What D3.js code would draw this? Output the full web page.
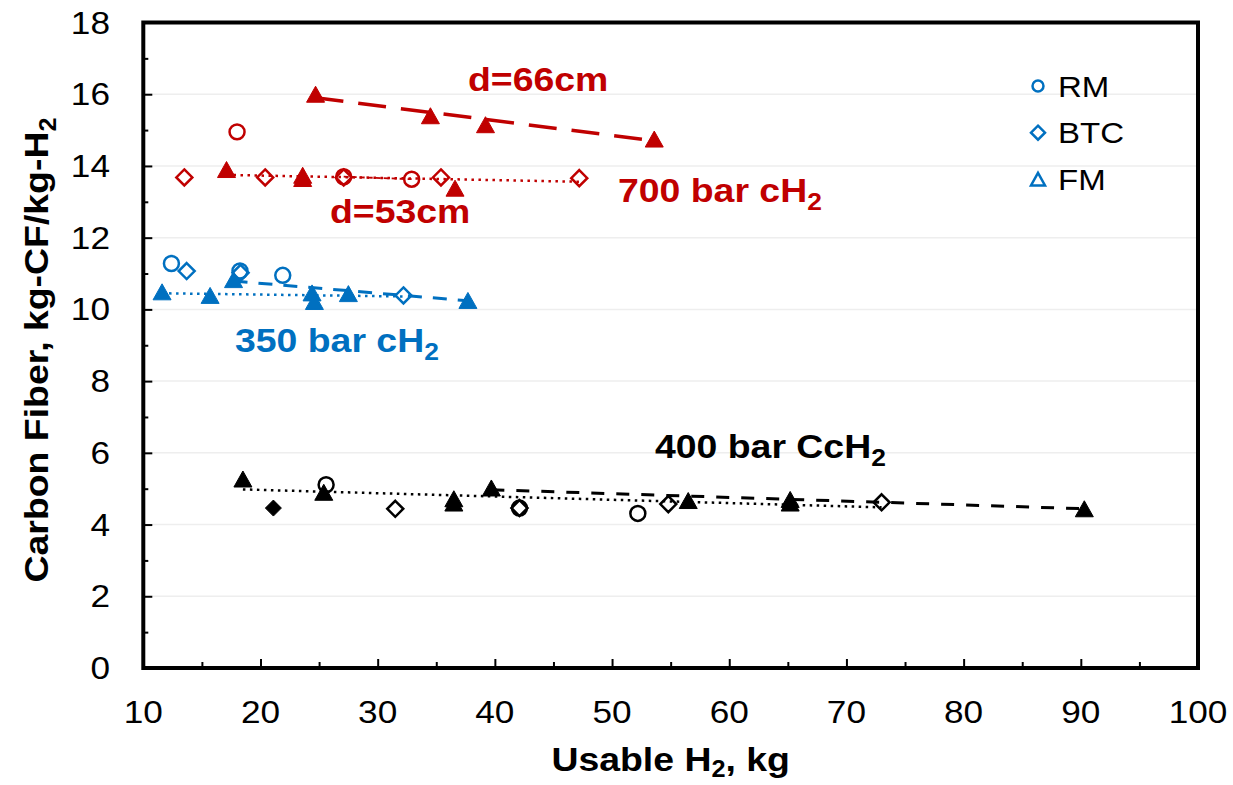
<!DOCTYPE html>
<html>
<head>
<meta charset="utf-8">
<script src="https://cdn.jsdelivr.net/npm/d3@7"></script>
<style>
  html, body { margin: 0; padding: 0; background: #ffffff; }
  svg { display: block; }
  text { font-family: "Liberation Sans", Arial, sans-serif; }
</style>
</head>
<body>
<svg id="chart" width="1233" height="785"></svg>
<script>
// ---------------- data ----------------
const xTickValues = [10, 20, 30, 40, 50, 60, 70, 80, 90, 100];
const xMinorTicks = [15, 25, 35, 45, 55, 65, 75, 85, 95];
const yTickValues = [0, 2, 4, 6, 8, 10, 12, 14, 16, 18];
const yMinorTicks = [1, 3, 5, 7, 9, 11, 13, 15, 17];

// 700 bar cH2
const red66FM  = [[24.7, 16.0], [34.5, 15.4], [39.2, 15.15], [53.6, 14.75]];
const red53FM  = [[17.1, 13.9], [23.6, 13.65], [23.6, 13.74], [36.6, 13.38]];
const red53BTC = [[13.5, 13.68], [20.4, 13.68], [27.1, 13.68], [35.4, 13.68], [47.2, 13.66]];
const red53RM  = [[18.0, 14.95], [27.1, 13.7], [32.9, 13.63]];
// 350 bar cH2
const blueFM  = [[11.6, 10.49], [15.7, 10.39], [17.7, 10.83], [24.4, 10.46], [24.6, 10.22], [27.5, 10.44], [37.7, 10.25]];
const blueBTC = [[13.7, 11.07], [18.3, 11.02], [32.2, 10.39]];
const blueRM  = [[12.4, 11.28], [18.25, 11.07], [21.9, 10.95]];
// 400 bar CcH2
const blackFM        = [[18.5, 5.27], [25.4, 4.9], [36.5, 4.6], [36.5, 4.72], [39.7, 5.02], [56.5, 4.67], [65.2, 4.6], [65.2, 4.7], [90.3, 4.44]];
const blackBTCFilled = [[21.1, 4.46]];
const blackBTC       = [[31.5, 4.44], [42.1, 4.46], [54.8, 4.57], [73.0, 4.62]];
const blackRM        = [[25.6, 5.11], [42.1, 4.46], [52.2, 4.31]];

// trend lines (end points)
const trend700d66  = [[24.7, 15.9], [53.6, 14.7]];
const trend700d53  = [[17.1, 13.75], [47.2, 13.56]];
const trend700RM   = [[27.1, 13.7], [32.9, 13.63]];
const trend350dot  = [[11.6, 10.45], [32.2, 10.36]];
const trend350dash = [[17.7, 10.79], [37.7, 10.24]];
const trend400dot  = [[18.5, 4.98], [73.0, 4.48]];
const trend400dash = [[39.7, 4.97], [90.3, 4.44]];

const legendItems = ["RM", "BTC", "FM"];

// ---------------- drawing ----------------
const RED = "#C00000", BLUE = "#0070C0", BLACK = "#000000";
const STRETCH = 1.1;
const svg = d3.select("#chart");
svg.append("rect").attr("width", 1233).attr("height", 785).attr("fill", "#fff");

const x = d3.scaleLinear().domain([10, 100]).range([143.3, 1198]);
const y = d3.scaleLinear().domain([0, 18]).range([668, 22.5]);

// gridlines
svg.append("g").selectAll("line")
  .data(yTickValues.filter(v => v > 0 && v < 18))
  .join("line")
  .attr("x1", x(10)).attr("x2", x(100))
  .attr("y1", d => y(d)).attr("y2", d => y(d))
  .attr("stroke", "#eeeeee").attr("stroke-width", 1.5);

// ticks (inward)
function tickAxis(axis, tr) {
  const g = svg.append("g").attr("transform", tr).call(axis);
  g.select(".domain").remove();
  g.selectAll(".tick line").attr("stroke", "#000").attr("stroke-width", 2);
  g.selectAll(".tick text").remove();
}
tickAxis(d3.axisLeft(y).tickValues(yTickValues).tickSize(-9).tickFormat(""), `translate(${x(10)},0)`);
tickAxis(d3.axisLeft(y).tickValues(yMinorTicks).tickSize(-5).tickFormat(""), `translate(${x(10)},0)`);
tickAxis(d3.axisBottom(x).tickValues(xTickValues).tickSize(-9).tickFormat(""), `translate(0,${y(0)})`);
tickAxis(d3.axisBottom(x).tickValues(xMinorTicks).tickSize(-6).tickFormat(""), `translate(0,${y(0)})`);

// frame
svg.append("rect")
  .attr("x", x(10)).attr("y", y(18))
  .attr("width", x(100) - x(10)).attr("height", y(0) - y(18))
  .attr("fill", "none").attr("stroke", "#000").attr("stroke-width", 4);

// text helper with slight horizontal stretch
function txt(px, py, anchor, size, weight, color, rot) {
  return svg.append("text")
    .attr("transform", `translate(${px},${py})` + (rot ? ` rotate(${rot})` : "") + ` scale(${STRETCH},1)`)
    .attr("text-anchor", anchor)
    .attr("font-size", size)
    .attr("font-weight", weight)
    .attr("fill", color);
}

// tick labels
xTickValues.forEach(v => txt(x(v), 723, "middle", 32, "normal", "#000").text(v));
yTickValues.forEach(v => txt(110, y(v) + 11, "end", 32, "normal", "#000").text(v));

// axis titles
const xt = txt(x(55), 771, "middle", 34, "bold", "#000");
xt.append("tspan").text("Usable H");
xt.append("tspan").attr("font-size", 23).attr("dy", 6).text("2");
xt.append("tspan").attr("dy", -6).text(", kg");

const yt = txt(48, 350, "middle", 34, "bold", "#000", -90);
yt.append("tspan").text("Carbon Fiber, kg-CF/kg-H");
yt.append("tspan").attr("font-size", 23).attr("dy", 8).text("2");

// trend lines
const line = d3.line().x(d => x(d[0])).y(d => y(d[1]));
function trend(data, color, width, dash) {
  svg.append("path").datum(data).attr("d", line)
    .attr("fill", "none").attr("stroke", color)
    .attr("stroke-width", width).attr("stroke-dasharray", dash);
}
trend(trend700d66, RED, 3.5, "28 15");
trend(trend700d53, RED, 2.5, "2.5 4.5");
trend(trend700RM, RED, 1.8, "5 3");
trend(trend350dot, BLUE, 2.5, "2.5 4.5");
trend(trend350dash, BLUE, 3, "14 11");
trend(trend400dot, BLACK, 2.5, "2.5 4.5");
trend(trend400dash, BLACK, 3, "13 12");

// markers
const shapes = {
  tri: "M0,-8L9,8L-9,8Z",
  dia: "M0,-8L8,0L0,8L-8,0Z",
  cir: d3.symbol().type(d3.symbolCircle).size(Math.PI * 56)()
};
function markers(data, shape, color, filled) {
  svg.append("g").selectAll("path").data(data).join("path")
    .attr("transform", d => `translate(${x(d[0])},${y(d[1])})`)
    .attr("d", shapes[shape])
    .attr("fill", filled ? color : "none")
    .attr("stroke", color)
    .attr("stroke-width", filled ? 1 : 2.5)
    .attr("stroke-linejoin", "miter");
}
markers(red53BTC, "dia", RED, false);
markers(red53RM, "cir", RED, false);
markers(red53FM, "tri", RED, true);
markers(red66FM, "tri", RED, true);
markers(blueBTC, "dia", BLUE, false);
markers(blueRM, "cir", BLUE, false);
markers(blueFM, "tri", BLUE, true);
markers(blackBTC, "dia", BLACK, false);
markers(blackBTCFilled, "dia", BLACK, true);
markers(blackRM, "cir", BLACK, false);
markers(blackFM, "tri", BLACK, true);

// annotations
txt(468, 91, "start", 34, "bold", RED).text("d=66cm");
txt(330, 223, "start", 34, "bold", RED).text("d=53cm");
const t700 = txt(618, 202, "start", 34, "bold", RED);
t700.append("tspan").text("700 bar cH");
t700.append("tspan").attr("font-size", 24).attr("dy", 8).text("2");
const t350 = txt(235, 352, "start", 34, "bold", BLUE);
t350.append("tspan").text("350 bar cH");
t350.append("tspan").attr("font-size", 24).attr("dy", 8).text("2");
const t400 = txt(655, 458, "start", 34, "bold", BLACK);
t400.append("tspan").text("400 bar CcH");
t400.append("tspan").attr("font-size", 24).attr("dy", 8).text("2");

// legend
const legendShapes = {
  RM: d3.symbol().type(d3.symbolCircle).size(Math.PI * 30)(),
  BTC: "M0,-7L7,0L0,7L-7,0Z",
  FM: "M0,-6.5L7,6L-7,6Z"
};
legendItems.forEach((name, i) => {
  const cy = 86 + i * 46.7;
  svg.append("path").attr("transform", `translate(1038,${cy})`)
    .attr("d", legendShapes[name]).attr("fill", "none")
    .attr("stroke", BLUE).attr("stroke-width", 2.5);
  txt(1058, cy + 10.7, "start", 30, "normal", "#000").text(name);
});
</script>
</body>
</html>
